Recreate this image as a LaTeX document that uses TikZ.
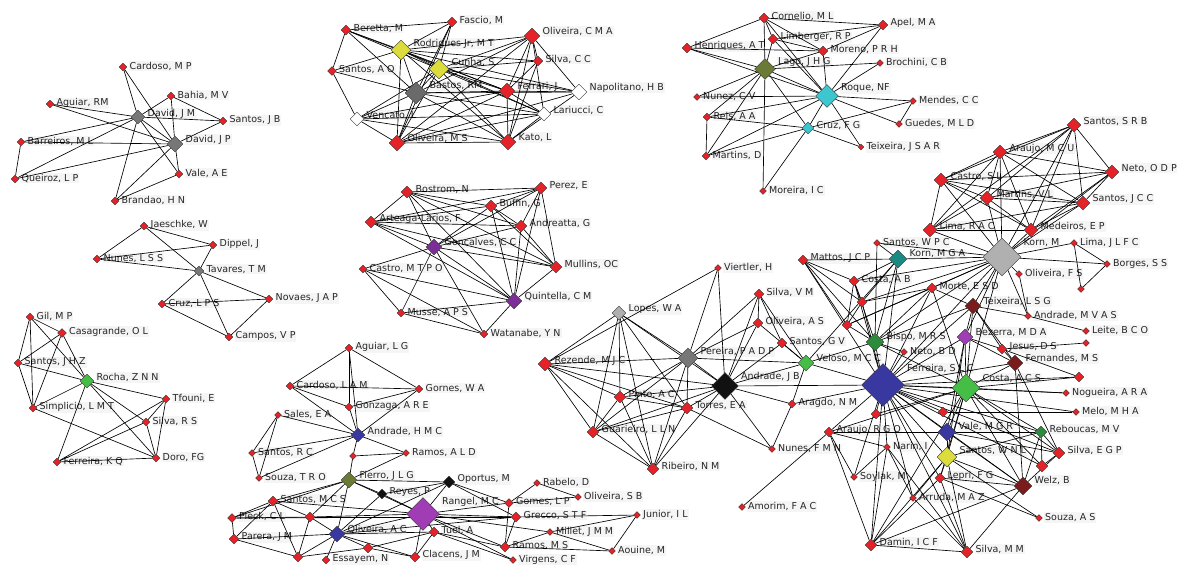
\documentclass[tikz,border=0pt]{standalone}
\usepackage{fontspec}
\newfontfamily\lblfont{DejaVu Sans}
\usetikzlibrary{shapes.geometric}
\pgfdeclarelayer{back}
\pgfdeclarelayer{labels}
\pgfdeclarelayer{edges}
\pgfsetlayers{back,labels,edges,main}

\definecolor{nred}{HTML}{E52227}
\definecolor{ngray}{HTML}{777777}
\definecolor{ndgray}{HTML}{6A6A6A}
\definecolor{nlgray}{HTML}{B0B0B0}
\definecolor{nyellow}{HTML}{DCDC3C}
\definecolor{nolive}{HTML}{6B7B35}
\definecolor{ncyan}{HTML}{3CC6CF}
\definecolor{npurple}{HTML}{7A2E96}
\definecolor{nviolet}{HTML}{A03CB4}
\definecolor{ngreen}{HTML}{45BE45}
\definecolor{ndkgreen}{HTML}{2C8C3C}
\definecolor{nteal}{HTML}{1A8A84}
\definecolor{nblue}{HTML}{3838A0}
\definecolor{nmaroon}{HTML}{7A1C1C}
\definecolor{nblack}{HTML}{111111}

\tikzset{
  vtx/.style={diamond, draw=black!80, line width=0.4pt, inner sep=0pt, aspect=1},
  lbl/.style={font=\lblfont\fontsize{9.5}{11}\selectfont, anchor=west, inner sep=1pt, fill=black!4, text=black!85},
  edge/.style={draw=black, line width=0.65pt}
}

% vertex: name, x, y, size, fill, label
\newcommand\vx[6]{%
  \node[vtx, minimum size=#4pt, fill=#5] (#1) at (#2,#3) {};
  \ifx\relax#6\relax\else
  \begin{pgfonlayer}{labels}
  \pgfmathsetmacro\lx{#2+#4/2+1.5}%
  \pgfmathsetmacro\ly{#3-max(0,0.45*(#4-6))}%
  \node[lbl] (#1-t) at (\lx,\ly) {#6};
  \end{pgfonlayer}\fi}
\newcommand\links[1]{\begin{pgfonlayer}{edges}\foreach \a/\b in {#1}{\draw[edge] (\a) -- (\b);}\end{pgfonlayer}}

\begin{document}
\begin{tikzpicture}[x=1pt,y=-1pt]
\begin{pgfonlayer}{back}
\fill[white] (0,0) rectangle (1177,566);
\end{pgfonlayer}
\useasboundingbox (0,0) rectangle (1177,566);

% ---- David group
\vx{cardMP}{123}{67}{8}{nred}{Cardoso, M P}
\vx{bahia}{171}{96}{8}{nred}{Bahia, M V}
\vx{aguRM}{50}{104}{8}{nred}{Aguiar, RM}
\vx{davJM}{138}{117}{14}{ngray}{David, J M}
\vx{santJB}{223}{121}{8}{nred}{Santos, J B}
\vx{barr}{21}{142}{8}{nred}{Barreiros, M L}
\vx{davJP}{175}{144}{16}{ngray}{David, J P}
\vx{valeAE}{179}{174}{8}{nred}{Vale, A E}
\vx{queir}{15}{179}{8}{nred}{Queiroz, L P}
\vx{brand}{115}{201}{8}{nred}{Brandao, H N}
\links{cardMP/davJM,cardMP/davJP,bahia/davJM,bahia/davJP,bahia/santJB,aguRM/davJM,aguRM/davJP,davJM/santJB,davJP/santJB,barr/davJM,barr/davJP,barr/queir,queir/davJM,queir/davJP,valeAE/davJM,valeAE/davJP,brand/davJM,brand/davJP,brand/valeAE,davJM/davJP}

% ---- Tavares group
\vx{jaesch}{144}{226}{8}{nred}{Jaeschke, W}
\vx{dippel}{213}{245}{8}{nred}{Dippel, J}
\vx{nunLSS}{97}{259}{8}{nred}{Nunes, L S S}
\vx{tavar}{199}{271}{10}{ngray}{Tavares, T M}
\vx{novaes}{269}{299}{8}{nred}{Novaes, J A P}
\vx{cruzLPS}{162}{304}{8}{nred}{Cruz, L P S}
\vx{campos}{229}{337}{8}{nred}{Campos, V P}
\links{jaesch/dippel,jaesch/tavar,jaesch/nunLSS,nunLSS/dippel,nunLSS/tavar,dippel/tavar,tavar/cruzLPS,tavar/novaes,tavar/campos,cruzLPS/novaes,cruzLPS/campos,campos/novaes}

% ---- Rocha group
\vx{gilMP}{30}{317}{8}{nred}{Gil, M P}
\vx{casag}{62}{333}{9}{nred}{Casagrande, O L}
\vx{santJHZ}{18}{363}{8}{nred}{Santos, J H Z}
\vx{rocha}{87}{381}{14}{ngreen}{Rocha, Z N N}
\vx{simpl}{33}{408}{8}{nred}{Simplicio, L M T}
\vx{tfouni}{166}{399}{8}{nred}{Tfouni, E}
\vx{silRS}{146}{422}{8}{nred}{Silva, R S}
\vx{ferKQ}{57}{462}{8}{nred}{Ferreira, K Q}
\vx{doro}{156}{458}{8}{nred}{Doro, FG}
\links{gilMP/casag,gilMP/santJHZ,gilMP/simpl,gilMP/rocha,casag/santJHZ,casag/rocha,casag/simpl,santJHZ/rocha,santJHZ/simpl,rocha/simpl,rocha/tfouni,rocha/silRS,rocha/doro,rocha/ferKQ,tfouni/silRS,tfouni/ferKQ,tfouni/doro,silRS/ferKQ,silRS/doro,ferKQ/doro,simpl/doro}

% ---- Bastos group
\vx{beret}{346}{30}{10}{nred}{Beretta, M}
\vx{fascio}{452}{22}{10}{nred}{Fascio, M}
\vx{olCMA}{532}{36}{16}{nred}{Oliveira, C M A}
\vx{rodr}{401}{50}{20}{nyellow}{Rodrigues Jr, M T}
\vx{silCC}{538}{61}{10}{nred}{Silva, C C}
\vx{santAO}{332}{71}{9}{nred}{Santos, A O}
\vx{cunha}{439}{69}{20}{nyellow}{Cunha, S}
\vx{bastos}{416}{93}{22}{ndgray}{Bastos, RM}
\vx{ferrari}{507}{91}{16}{nred}{Ferrari, J}
\vx{napol}{579}{92}{16}{white}{Napolitano, H B}
\vx{vencato}{357}{119}{14}{white}{Vencato, I}
\vx{lariu}{544}{114}{14}{white}{Lariucci, C}
\vx{olMS}{397}{143}{16}{nred}{Oliveira, M S}
\vx{kato}{508}{142}{16}{nred}{Kato, L}
\links{beret/fascio,beret/rodr,beret/cunha,beret/bastos,beret/santAO,beret/ferrari,fascio/rodr,fascio/cunha,fascio/bastos,fascio/olMS,olCMA/rodr,olCMA/cunha,olCMA/bastos,olCMA/ferrari,olCMA/silCC,olCMA/kato,olCMA/olMS,olCMA/napol,olCMA/lariu,rodr/cunha,rodr/bastos,rodr/ferrari,rodr/silCC,rodr/kato,rodr/olMS,rodr/lariu,rodr/santAO,rodr/napol,cunha/bastos,cunha/ferrari,cunha/silCC,cunha/kato,cunha/napol,cunha/lariu,cunha/olMS,cunha/vencato,bastos/ferrari,bastos/napol,bastos/lariu,bastos/kato,bastos/olMS,bastos/vencato,bastos/santAO,ferrari/kato,ferrari/olMS,ferrari/napol,ferrari/lariu,ferrari/vencato,ferrari/silCC,vencato/olMS,vencato/kato,vencato/lariu,vencato/santAO,olMS/kato,olMS/lariu,olMS/napol,kato/lariu,kato/napol,silCC/kato}

% ---- Lago / Roque group
\vx{cornel}{764}{18}{10}{nred}{Cornelio, M L}
\vx{apel}{883}{25}{10}{nred}{Apel, M A}
\vx{limb}{773}{39}{10}{nred}{Limberger, R P}
\vx{henr}{687}{48}{10}{nred}{Henriques, A T}
\vx{moreno}{823}{51}{10}{nred}{Moreno, P R H}
\vx{lago}{765}{69}{21}{nolive}{Lago, J H G}
\vx{broch}{880}{63}{7}{nred}{Brochini, C B}
\vx{roque}{827}{96}{23}{ncyan}{Roque, NF}
\vx{nunez}{697}{97}{7}{nred}{Nunez, C V}
\vx{reis}{707}{117}{8}{nred}{Reis, A A}
\vx{mendes}{913}{101}{7}{nred}{Mendes, C C}
\vx{cruzFG}{808}{128}{12}{ncyan}{Cruz, F G}
\vx{guedes}{899}{124}{7}{nred}{Guedes, M L D}
\vx{teixJS}{861}{147}{6}{nred}{Teixeira, J S A R}
\vx{martD}{706}{156}{8}{nred}{Martins, D}
\vx{moreira}{763}{191}{7}{nred}{Moreira, I C}
\links{cornel/limb,cornel/lago,cornel/moreno,cornel/apel,cornel/henr,cornel/roque,limb/lago,limb/moreno,limb/apel,limb/roque,henr/lago,henr/roque,henr/moreno,moreno/lago,moreno/roque,moreno/apel,lago/roque,lago/broch,lago/cruzFG,lago/nunez,lago/reis,lago/martD,lago/moreira,roque/broch,roque/mendes,roque/guedes,roque/nunez,roque/reis,roque/cruzFG,roque/martD,roque/teixJS,roque/apel,cruzFG/reis,cruzFG/martD,cruzFG/teixJS,cruzFG/moreira,cruzFG/mendes,reis/martD,mendes/guedes}

% ---- Goncalves / Quintella group
\vx{bostr}{407}{192}{12}{nred}{Bostrom, N}
\vx{perez}{541}{188}{12}{nred}{Perez, E}
\vx{buffin}{491}{206}{12}{nred}{Buffin, G}
\vx{artea}{371}{222}{12}{nred}{Arteaga-Larios, F}
\vx{andreat}{521}{226}{12}{nred}{Andreatta, G}
\vx{gonc}{434}{247}{16}{npurple}{Goncalves, C C}
\vx{castMT}{363}{269}{8}{nred}{Castro, M T P O}
\vx{mullins}{556}{267}{12}{nred}{Mullins, OC}
\vx{quint}{514}{301}{16}{npurple}{Quintella, C M}
\vx{musse}{401}{313}{8}{nred}{Musse, A P S}
\vx{watan}{484}{334}{8}{nred}{Watanabe, Y N}
\links{bostr/perez,bostr/buffin,bostr/andreat,bostr/mullins,bostr/gonc,bostr/quint,bostr/artea,perez/buffin,perez/andreat,perez/gonc,perez/quint,perez/mullins,perez/artea,buffin/gonc,buffin/quint,buffin/mullins,buffin/artea,buffin/andreat,artea/gonc,artea/andreat,artea/quint,artea/mullins,andreat/gonc,andreat/quint,andreat/mullins,gonc/mullins,gonc/quint,gonc/castMT,gonc/musse,gonc/watan,castMT/musse,castMT/quint,castMT/watan,mullins/quint,quint/musse,quint/watan,musse/watan}

% ---- Andrade H M C / Fierro / Rangel group
\vx{aguLG}{349}{348}{8}{nred}{Aguiar, L G}
\vx{cardLAM}{290}{386}{8}{nred}{Cardoso, L A M}
\vx{gornes}{419}{389}{8}{nred}{Gornes, W A}
\vx{gonz}{349}{407}{8}{nred}{Gonzaga, A R E}
\vx{sales}{278}{415}{7}{nred}{Sales, E A}
\vx{andrHMC}{358}{435}{14}{nblue}{Andrade, H M C}
\vx{santRC}{252}{453}{7}{nred}{Santos, R C}
\vx{g1}{353}{456}{7}{nred}{}
\vx{ramALD}{406}{453}{7}{nred}{Ramos, A L D}
\vx{souzTRO}{259}{478}{7}{nred}{Souza, T R O}
\vx{fierro}{349}{480}{16}{nolive}{Fierro, J L G}
\vx{oport}{449}{482}{12}{nblack}{Oportus, M}
\vx{reyes}{382}{494}{10}{nblack}{Reyes, P}
\vx{santMCS}{273}{501}{10}{nred}{Santos, M C S}
\vx{rangel}{423}{514}{33}{nviolet}{Rangel, M C}
\vx{pieck}{232}{518}{9}{nred}{Pieck, C L}
\vx{g2}{310}{517}{10}{nred}{}
\vx{gomes}{509}{503}{9}{nred}{Gomes, L P}
\vx{grecco}{516}{517}{10}{nred}{Grecco, S T F}
\vx{olAC}{337}{534}{16}{nblue}{Oliveira, A C}
\vx{tuel}{434}{532}{10}{nred}{Tuel, A}
\vx{parera}{234}{539}{10}{nred}{Parera, J M}
\vx{ramMS}{505}{547}{10}{nred}{Ramos, M S}
\vx{g3}{368}{548}{10}{nred}{}
\vx{clacens}{415}{557}{10}{nred}{Clacens, J M}
\vx{g4}{298}{557}{10}{nred}{}
\vx{essay}{326}{560}{8}{nred}{Essayem, N}
\vx{virg}{513}{560}{7}{nred}{Virgens, C F}
\vx{rabelo}{537}{483}{7}{nred}{Rabelo, D}
\vx{olSB}{578}{497}{7}{nred}{Oliveira, S B}
\vx{junior}{637}{515}{7}{nred}{Junior, I L}
\vx{millet}{550}{532}{7}{nred}{Millet, J M M}
\vx{aouine}{612}{551}{7}{nred}{Aouine, M}
\links{aguLG/gonz,aguLG/andrHMC,aguLG/gornes,aguLG/cardLAM,cardLAM/gonz,cardLAM/andrHMC,cardLAM/gornes,gornes/gonz,gornes/andrHMC,gonz/andrHMC,sales/andrHMC,sales/santRC,sales/souzTRO,santRC/souzTRO,santRC/andrHMC,souzTRO/andrHMC,andrHMC/g1,andrHMC/ramALD,g1/ramALD,g1/fierro,ramALD/fierro,fierro/oport,fierro/reyes,fierro/rangel,fierro/santMCS,fierro/g2,fierro/pieck,fierro/olAC,oport/rangel,oport/reyes,oport/gomes,oport/grecco,oport/olAC,reyes/rangel,reyes/olAC,rangel/gomes,rangel/grecco,rangel/ramMS,rangel/tuel,rangel/clacens,rangel/g2,rangel/olAC,rangel/millet,rangel/santMCS,rangel/virg,santMCS/pieck,santMCS/g2,santMCS/parera,santMCS/g4,pieck/parera,pieck/g2,pieck/grecco,parera/g4,parera/olAC,g2/grecco,g2/g4,g2/olAC,olAC/tuel,olAC/clacens,olAC/g3,olAC/essay,olAC/grecco,olAC/g4,tuel/ramMS,tuel/clacens,tuel/g3,tuel/virg,clacens/g3,g3/g4,gomes/rabelo,gomes/olSB,rabelo/olSB,gomes/ramMS,grecco/junior,grecco/ramMS,millet/junior,millet/aouine,junior/aouine,ramMS/aouine,ramMS/millet}

% ---- Large group: left part
\vx{viert}{718}{268}{7}{nred}{Viertler, H}
\vx{silVM}{759}{294}{10}{nred}{Silva, V M}
\vx{lopes}{619}{313}{14}{nlgray}{Lopes, W A}
\vx{olAS}{758}{323}{10}{nred}{Oliveira, A S}
\vx{santGV}{782}{343}{10}{nred}{Santos, G V}
\vx{rezende}{545}{364}{14}{nred}{Rezende, M J C}
\vx{pereira}{688}{358}{20}{ngray}{Pereira, P A D P}
\vx{veloso}{806}{363}{16}{ngreen}{Veloso, M C C}
\vx{andrJB}{725}{386}{27}{nblack}{Andrade, J B}
\vx{pinto}{620}{397}{12}{nred}{Pinto, A C}
\vx{torres}{687}{408}{12}{nred}{Torres, E A}
\vx{aragdo}{792}{404}{8}{nred}{Aragdo, N M}
\vx{guar}{593}{432}{12}{nred}{Guarieiro, L L N}
\vx{ribeiro}{653}{469}{12}{nred}{Ribeiro, N M}
\vx{nunFMN}{772}{449}{7}{nred}{Nunes, F M N}
\vx{amorim}{742}{507}{7}{nred}{Amorim, F A C}

% ---- Large group: Korn and upper right
\vx{santSRB}{1074}{125}{14}{nred}{Santos, S R B}
\vx{araMCU}{1000}{152}{14}{nred}{Araujo, M C U}
\vx{netoODP}{1112}{172}{14}{nred}{Neto, O D P}
\vx{castSL}{941}{180}{14}{nred}{Castro, S L}
\vx{martVL}{987}{198}{14}{nred}{Martins, V L}
\vx{santJCC}{1083}{203}{14}{nred}{Santos, J C C}
\vx{limaRAC}{930}{230}{14}{nred}{Lima, R A C}
\vx{medeir}{1031}{230}{14}{nred}{Medeiros, E P}
\vx{santWPC}{877}{243}{7}{nred}{Santos, W P C}
\vx{kornM}{1002}{257}{38}{nlgray}{Korn, M}
\vx{limaJL}{1074}{243}{7}{nred}{Lima, J L F C}
\vx{kornMGA}{898}{259}{18}{nteal}{Korn, M G A}
\vx{mattos}{803}{260}{10}{nred}{Mattos, J C P}
\vx{borges}{1107}{264}{7}{nred}{Borges, S S}
\vx{costaAB}{854}{281}{10}{nred}{Costa, A B}
\vx{olFS}{1019}{274}{7}{nred}{Oliveira, F S}
\vx{h1}{1081}{289}{7}{nred}{}
\vx{morte}{932}{288}{10}{nred}{Morte, E S D}
\vx{h2}{862}{302}{10}{nred}{}
\vx{teixLSG}{973}{306}{16}{nmaroon}{Teixeira, L S G}
\vx{andrMV}{1028}{316}{7}{nred}{Andrade, M V A S}
\vx{h3}{847}{325}{10}{nred}{}
\vx{leite}{1086}{331}{7}{nred}{Leite, B C O}
\vx{bispo}{875}{342}{18}{ndkgreen}{Bispo, M R S}
\vx{bezerra}{965}{337}{16}{nviolet}{Bezerra, M D A}
\vx{h4}{1086}{343}{7}{nred}{}
\vx{jesus}{1002}{349}{10}{nred}{Jesus, D S}
\vx{netoBD}{904}{352}{7}{nred}{Neto, B D}
\vx{fernand}{1015}{363}{16}{nmaroon}{Fernandes, M S}

% ---- Large group: Ferreira and lower right
\vx{ferreira}{883}{385}{43}{nblue}{Ferreira, S L C}
\vx{costaACS}{966}{388}{28}{ngreen}{Costa, A C S}
\vx{h5}{1079}{377}{10}{nred}{}
\vx{nogue}{1066}{393}{7}{nred}{Nogueira, A R A}
\vx{melo}{1076}{412}{7}{nred}{Melo, M H A}
\vx{h6}{876}{414}{10}{nred}{}
\vx{h7}{943}{412}{10}{nred}{}
\vx{valeMGR}{947}{432}{18}{nblue}{Vale, M G R}
\vx{rebouc}{1041}{432}{12}{ndkgreen}{Reboucas, M V}
\vx{araRGO}{829}{432}{10}{nred}{Araujo, R G O}
\vx{narin}{887}{447}{7}{nred}{Narin, I}
\vx{silEGP}{1059}{453}{12}{nred}{Silva, E G P}
\vx{santWNL}{947}{457}{20}{nyellow}{Santos, W N L}
\vx{h8}{1042}{466}{12}{nred}{}
\vx{soylak}{854}{477}{7}{nred}{Soylak, M}
\vx{lepri}{940}{478}{10}{nred}{Lepri, F G}
\vx{welz}{1023}{486}{18}{nmaroon}{Welz, B}
\vx{arruda}{913}{498}{7}{nred}{Arruda, M A Z}
\vx{souzAS}{1039}{518}{7}{nred}{Souza, A S}
\vx{damin}{871}{545}{12}{nred}{Damin, I C F}
\vx{silMM}{967}{552}{12}{nred}{Silva, M M}

\links{lopes/pereira,lopes/andrJB,lopes/rezende,lopes/pinto,lopes/torres,lopes/guar,lopes/ribeiro,viert/pereira,viert/andrJB,viert/rezende,silVM/olAS,silVM/santGV,silVM/veloso,silVM/andrJB,silVM/pereira,olAS/andrJB,olAS/veloso,olAS/pereira,santGV/andrJB,santGV/veloso,rezende/pereira,rezende/andrJB,rezende/pinto,rezende/torres,rezende/guar,rezende/ribeiro,pereira/andrJB,pereira/veloso,pereira/torres,pereira/pinto,pereira/guar,pereira/ribeiro,andrJB/ferreira,andrJB/torres,andrJB/pinto,andrJB/guar,andrJB/ribeiro,andrJB/aragdo,andrJB/nunFMN,andrJB/veloso,torres/pinto,torres/guar,torres/ribeiro,torres/nunFMN,pinto/guar,pinto/ribeiro,guar/ribeiro,aragdo/veloso,aragdo/nunFMN,aragdo/ferreira,amorim/araRGO}

\links{veloso/ferreira,veloso/bispo,veloso/kornMGA,mattos/kornMGA,mattos/costaAB,mattos/h2,mattos/h3,mattos/bispo,mattos/ferreira,santWPC/kornMGA,santWPC/kornM,santWPC/bispo,kornMGA/kornM,kornMGA/costaAB,kornMGA/bispo,kornMGA/h2,kornMGA/ferreira,kornM/castSL,kornM/martVL,kornM/santJCC,kornM/limaRAC,kornM/medeir,kornM/araMCU,kornM/santSRB,kornM/netoODP,kornM/limaJL,kornM/borges,kornM/olFS,kornM/morte,kornM/teixLSG,kornM/bispo,kornM/costaAB,kornM/h2,kornM/bezerra,kornM/andrMV,kornM/ferreira,kornM/costaACS,kornM/h3}

\links{santSRB/araMCU,santSRB/netoODP,santSRB/castSL,santSRB/martVL,santSRB/santJCC,santSRB/limaRAC,santSRB/medeir,araMCU/netoODP,araMCU/castSL,araMCU/martVL,araMCU/santJCC,araMCU/limaRAC,araMCU/medeir,netoODP/castSL,netoODP/martVL,netoODP/santJCC,netoODP/medeir,castSL/martVL,castSL/santJCC,castSL/limaRAC,castSL/medeir,martVL/santJCC,martVL/limaRAC,martVL/medeir,santJCC/limaRAC,santJCC/medeir,limaRAC/medeir,limaJL/borges,limaJL/h1,borges/h1,olFS/andrMV,andrMV/leite,teixLSG/andrMV}

\links{teixLSG/bezerra,teixLSG/jesus,teixLSG/fernand,teixLSG/morte,teixLSG/ferreira,teixLSG/costaACS,teixLSG/bispo,morte/bispo,morte/h2,morte/h3,morte/ferreira,morte/costaACS,costaAB/h2,costaAB/bispo,costaAB/h3,costaAB/ferreira,bispo/ferreira,bispo/costaACS,bispo/netoBD,bispo/h3,h2/h3,h2/ferreira,bezerra/jesus,bezerra/fernand,bezerra/ferreira,bezerra/costaACS,bezerra/valeMGR,bezerra/santWNL,jesus/h4,jesus/fernand,fernand/costaACS,fernand/ferreira,fernand/welz,fernand/silEGP,h5/jesus}

\links{ferreira/costaACS,ferreira/valeMGR,ferreira/santWNL,ferreira/araRGO,ferreira/h6,ferreira/h7,ferreira/narin,ferreira/lepri,ferreira/welz,ferreira/rebouc,ferreira/silEGP,ferreira/nogue,ferreira/melo,ferreira/h5,ferreira/soylak,ferreira/arruda,ferreira/damin,ferreira/silMM,ferreira/h8,ferreira/netoBD,costaACS/valeMGR,costaACS/santWNL,costaACS/rebouc,costaACS/silEGP,costaACS/welz,costaACS/h6,costaACS/araRGO,costaACS/damin,costaACS/h5,costaACS/lepri,costaACS/h8,costaACS/nogue,valeMGR/santWNL,valeMGR/rebouc,valeMGR/welz,valeMGR/araRGO,valeMGR/silEGP,santWNL/lepri,santWNL/welz,santWNL/damin,santWNL/arruda,santWNL/silMM,santWNL/souzAS,santWNL/rebouc,welz/silMM,welz/damin,welz/lepri,welz/rebouc,welz/silEGP,lepri/souzAS,lepri/silMM,lepri/damin,damin/silMM,damin/narin,damin/araRGO,arruda/silMM,arruda/narin,soylak/araRGO,soylak/narin,narin/araRGO,narin/silMM,rebouc/silEGP,rebouc/h8,silEGP/h8,h7/melo}

\end{tikzpicture}
\end{document}
